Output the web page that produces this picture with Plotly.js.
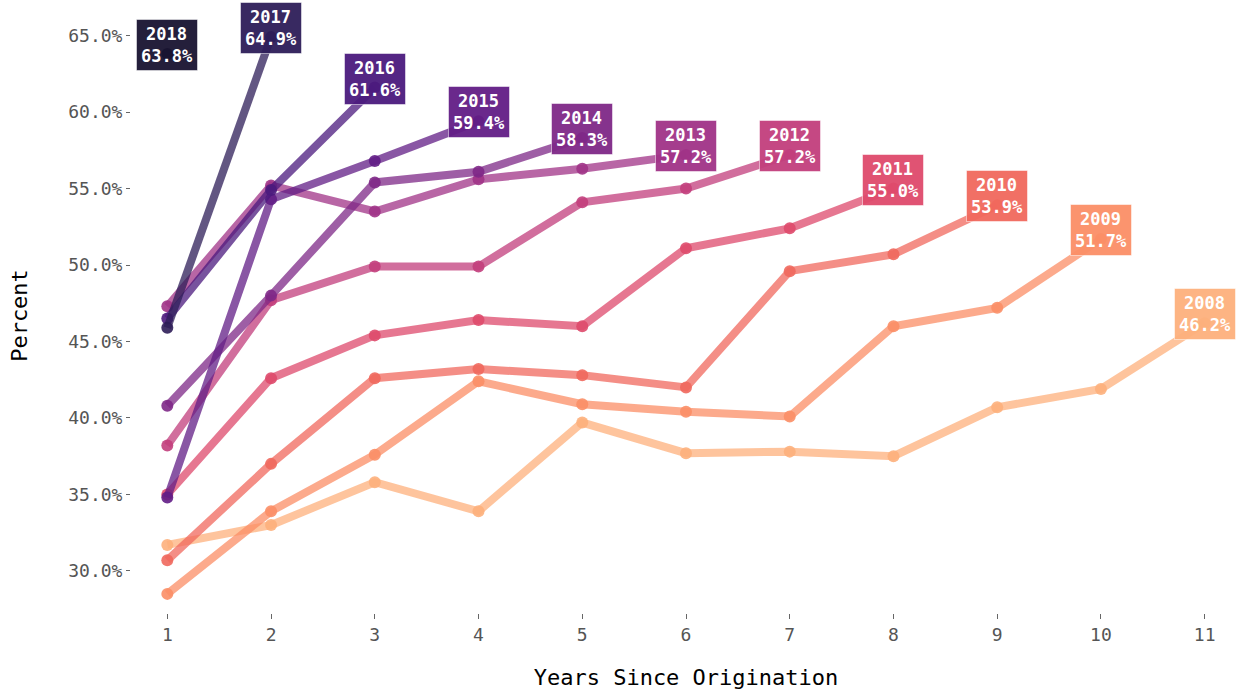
<!DOCTYPE html>
<html>
<head>
<meta charset="utf-8">
<script src="https://cdn.plot.ly/plotly-3.0.1.min.js"></script>
<style>html,body{margin:0;padding:0;background:#fff;}#chart{width:1241px;height:694px;}</style>
</head>
<body>
<div id="chart"></div>
<script>
// Cohorts (origination year) and their values by years since origination
const cohorts = ["2008","2009","2010","2011","2012","2013","2014","2015","2016","2017","2018"];
const v2008 = [31.7, 33.0, 35.8, 33.9, 39.7, 37.7, 37.8, 37.5, 40.7, 41.9, 46.2];
const v2009 = [28.5, 33.9, 37.6, 42.4, 40.9, 40.4, 40.1, 46.0, 47.2, 51.7];
const v2010 = [30.7, 37.0, 42.6, 43.2, 42.8, 42.0, 49.6, 50.7, 53.9];
const v2011 = [35.0, 42.6, 45.4, 46.4, 46.0, 51.1, 52.4, 55.0];
const v2012 = [38.2, 47.7, 49.9, 49.9, 54.1, 55.0, 57.2];
const v2013 = [47.3, 55.2, 53.5, 55.6, 56.3, 57.2];
const v2014 = [40.8, 48.0, 55.4, 56.1, 58.3];
const v2015 = [34.8, 54.3, 56.8, 59.4];
const v2016 = [46.5, 54.9, 61.6];
const v2017 = [45.9, 64.9];
const v2018 = [63.8];
const seriesValues = [v2008, v2009, v2010, v2011, v2012, v2013, v2014, v2015, v2016, v2017, v2018];
const colors = ["#fdb07c","#fb8e66","#f0685d","#de4a6c","#c23e7c","#a03387","#7e2887","#621d86","#4b1a7d","#2d1d58","#181330"];
const yTicks = [30, 35, 40, 45, 50, 55, 60, 65];
const xTicks = [1,2,3,4,5,6,7,8,9,10,11];

function rgba(hex, a){
  const n = parseInt(hex.slice(1),16);
  return `rgba(${(n>>16)&255},${(n>>8)&255},${n&255},${a})`;
}

const FONT = "DejaVu Sans Mono";
const traces = [];
const annotations = [];
cohorts.forEach((c, i) => {
  const ys = seriesValues[i];
  const xs = ys.map((_, k) => k + 1);
  traces.push({
    x: xs, y: ys, type: "scatter", mode: "lines+markers",
    line: {color: rgba(colors[i], 0.75), width: 8},
    marker: {color: rgba(colors[i], 0.9), size: 12},
    hoverinfo: "skip", showlegend: false
  });
  const lx = xs[xs.length-1], ly = ys[ys.length-1];
  annotations.push({
    x: lx, y: ly, xref: "x", yref: "y",
    text: `<b>${c}</b><br><b>${ly.toFixed(1)}%</b>`,
    showarrow: false, yshift: 9,
    font: {family: FONT, size: 17, color: "#ffffff"},
    bgcolor: rgba(colors[i], 0.95),
    bordercolor: "rgba(255,255,255,0.5)", borderwidth: 1, borderpad: 4,
    align: "center"
  });
});

const layout = {
  width: 1241, height: 694,
  margin: {l: 131, r: 0, t: 18, b: 81},
  paper_bgcolor: "#ffffff", plot_bgcolor: "#ffffff",
  showlegend: false,
  xaxis: {
    range: [0.65, 11.35], tickmode: "array", tickvals: xTicks, ticktext: xTicks.map(String),
    showgrid: false, zeroline: false, showline: false,
    ticks: "outside", ticklen: 5, tickwidth: 1, tickcolor: "#666",
    tickfont: {family: FONT, size: 18, color: "#555"},
    title: {text: "Years Since Origination", font: {family: FONT, size: 22, color: "#000"}, standoff: 26}
  },
  yaxis: {
    range: [27.25, 66.15], tickmode: "array", tickvals: yTicks, ticktext: yTicks.map(v => v.toFixed(1) + "%"),
    showgrid: false, zeroline: false, showline: false,
    ticks: "outside", ticklen: 4, tickwidth: 1, tickcolor: "#666",
    tickfont: {family: FONT, size: 18, color: "#555"},
    title: {text: "Percent", font: {family: FONT, size: 22, color: "#000"}, standoff: 34}
  },
  annotations: annotations
};

Plotly.newPlot("chart", traces, layout, {staticPlot: true, displayModeBar: false});
</script>
</body>
</html>
